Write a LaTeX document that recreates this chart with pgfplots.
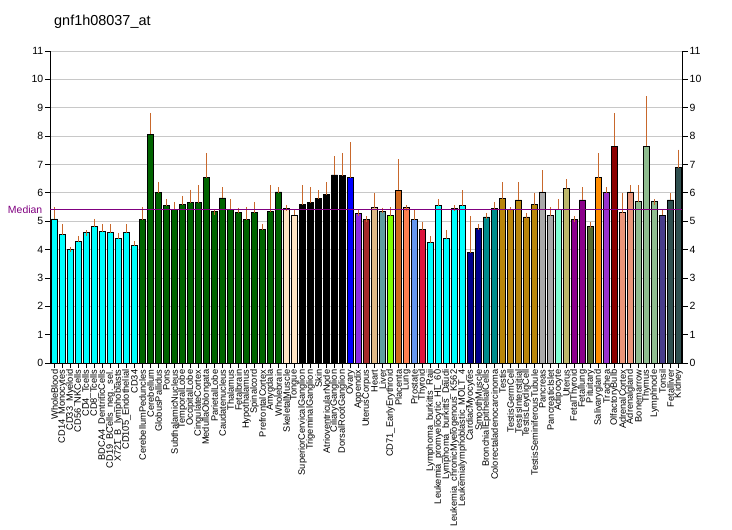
\documentclass[border=0pt]{standalone}
\usepackage{fontspec}
\setmainfont{Liberation Sans}
\usepackage{pgfplots}
\pgfplotsset{compat=1.18}
\definecolor{errc}{RGB}{200,104,44}
\definecolor{gridc}{RGB}{200,200,200}
\definecolor{medc}{RGB}{128,0,128}
\definecolor{cCyan}{HTML}{00FFFF}
\definecolor{cDarkgreen}{HTML}{006400}
\definecolor{cBisque}{HTML}{FFE4C4}
\definecolor{cBlack}{HTML}{000000}
\definecolor{cBlue}{HTML}{0000FF}
\definecolor{cBlueviolet}{HTML}{8A2BE2}
\definecolor{cBrown}{HTML}{A52A2A}
\definecolor{cBurlywood}{HTML}{DEB887}
\definecolor{cCadetblue}{HTML}{5F9EA0}
\definecolor{cChartreuse}{HTML}{7FFF00}
\definecolor{cChocolate}{HTML}{D2691E}
\definecolor{cCoral}{HTML}{FF7F50}
\definecolor{cCornflower}{HTML}{6495ED}
\definecolor{cCrimson}{HTML}{DC143C}
\definecolor{cDarkblue}{HTML}{00008B}
\definecolor{cDarkcyan}{HTML}{008B8B}
\definecolor{cDarkgoldenrod}{HTML}{B8860B}
\definecolor{cDarkgray}{HTML}{A9A9A9}
\definecolor{cAquamarine}{HTML}{7FFFD4}
\definecolor{cDarkkhaki}{HTML}{BDB76B}
\definecolor{cDarkmagenta}{HTML}{8B008B}
\definecolor{cDarkolive}{HTML}{556B2F}
\definecolor{cDarkorange}{HTML}{FF8C00}
\definecolor{cDarkorchid}{HTML}{9932CC}
\definecolor{cDarkred}{HTML}{8B0000}
\definecolor{cDarksalmon}{HTML}{E9967A}
\definecolor{cDarkseagreen}{HTML}{8FBC8F}
\definecolor{cDarkslateblue}{HTML}{483D8B}
\definecolor{cDarkslategray}{HTML}{2F4F4F}
\pgfplotsset{
  gbar/.style={ybar, bar width=6.4bp, bar shift=0pt, draw=black, line width=0.8bp, fill=#1,
    error bars/.cd, y dir=plus, y explicit,
    error bar style={color=errc, line width=0.9bp},
    error mark options={color=errc, line width=0.9bp, mark size=2.8bp}},
}
\begin{document}
\begin{tikzpicture}
\useasboundingbox (-50.5bp,-167bp) rectangle (681.5bp,363bp);
\begin{axis}[
  at={(0,0)}, anchor=south west,
  scale only axis, width=632bp, height=312bp,
  xmin=0.5, xmax=79.5, ymin=0, ymax=11,
  axis x line*=bottom, axis y line*=left,
  axis line style={black, line width=0.8bp},
  ytick={0,1,...,11},
  ymajorgrids, major grid style={draw=gridc, line width=0.8bp},
  tick align=outside, major tick length=5bp,
  tick style={black, line width=0.8bp},
  /pgf/number format/assume math mode=true,
  yticklabel style={font=\fontsize{10.5}{10.5}\selectfont, inner sep=2bp},
  xtick={1,...,79},
  xticklabels={WholeBlood,CD14\_Monocytes,CD33\_Myeloid,CD56\_NKCells,CD4\_Tcells,CD8\_Tcells,BDCA4\_DentriticCells,CD19\_BCells\_neg.\_sel.,X721\_B\_lymphoblasts,CD105\_Endothelial,CD34,CerebellumPeduncles,Cerebellum,GlobusPallidus,Pons,SubthalamicNucleus,TemporalLobe,OccipitalLobe,CingulateCortex,MedullaOblongata,ParietalLobe,Caudatenucleus,Thalamus,Fetalbrain,Hypothalamus,Spinalcord,PrefrontalCortex,Amygdala,Wholebrain,SkeletalMuscle,Tongue,SuperiorCervicalGanglion,TrigeminalGanglion,Skin,AtrioventricularNode,CiliaryGanglion,DorsalRootGanglion,Ovary,Appendix,UterusCorpus,Heart,Liver,CD71\_EarlyErythroid,Placenta,Lung,Prostate,Thyroid,Lymphoma\_burkitts\_Raji,Leukemia\_promyelocytic\_HL\_60,Lymphoma\_burkitts\_Daudi,Leukemia\_chronicMyelogenous\_K562,Leukemialymphoblastic\_MOLT\_4,CardiacMyocytes,SmoothMuscle,BronchialEpithelialCells,Colorectaladenocarcinoma,Testis,TestisGermCell,TestisInterstitial,TestisLeydigCell,TestisSeminiferousTubule,Pancreas,PancreaticIslet,Adipocyte,Uterus,FetalThyroid,Fetallung,Pituitary,Salivarygland,Trachea,OlfactoryBulb,AdrenalCortex,Adrenalgland,Bonemarrow,Thymus,Lymphnode,Tonsil,Fetalliver,Kidney},
  xticklabel style={rotate=90, anchor=east, font=\fontsize{9.3}{9.3}\selectfont, inner sep=1.5bp},
  clip=false,
]
\addplot[gbar=cCyan] coordinates {(1,5.08) +- (0,0.32) (2,4.52) +- (0,0.28) (3,4.00) +- (0,0) (4,4.28) +- (0,0.10) (5,4.59) +- (0,0) (6,4.80) +- (0,0.18) (7,4.63) +- (0,0.17) (8,4.59) +- (0,0.21) (9,4.38) +- (0,0.11) (10,4.59) +- (0,0.21) (11,4.14) +- (0,0.07)};
\addplot[gbar=cDarkgreen] coordinates {(12,5.05) +- (0,0.35) (13,8.07) +- (0,0.65) (14,6.01) +- (0,0.28) (15,5.54) +- (0,0.14) (16,5.40) +- (0,0.18) (17,5.58) +- (0,0.21) (18,5.65) +- (0,0.36) (19,5.65) +- (0,0.52) (20,6.53) +- (0,0.77) (21,5.33) +- (0,0) (22,5.82) +- (0,0.28) (23,5.40) +- (0,0.28) (24,5.30) +- (0,0.08) (25,5.05) +- (0,0.35) (26,5.30) +- (0,0.28) (27,4.70) +- (0,0.10) (28,5.33) +- (0,0.84) (29,6.03) +- (0,0.07)};
\addplot[gbar=cBisque] coordinates {(30,5.44) +- (0,0.03) (31,5.22) +- (0,0.08)};
\addplot[gbar=cBlack] coordinates {(32,5.58) +- (0,0.59) (33,5.65) +- (0,0.45) (34,5.79) +- (0,0.21) (35,5.93) +- (0,0.35) (36,6.63) +- (0,0.56) (37,6.60) +- (0,0.70)};
\addplot[gbar=cBlue] coordinates {(38,6.53) +- (0,1.16)};
\addplot[gbar=cBlueviolet] coordinates {(39,5.28) +- (0,0)};
\addplot[gbar=cBrown] coordinates {(40,5.05) +- (0,0.03)};
\addplot[gbar=cBurlywood] coordinates {(41,5.47) +- (0,0.42)};
\addplot[gbar=cCadetblue] coordinates {(42,5.33) +- (0,0.05)};
\addplot[gbar=cChartreuse] coordinates {(43,5.19) +- (0,0.21)};
\addplot[gbar=cChocolate] coordinates {(44,6.10) +- (0,0.99)};
\addplot[gbar=cCoral] coordinates {(45,5.47) +- (0,0)};
\addplot[gbar=cCornflower] coordinates {(46,5.05) +- (0,0.25)};
\addplot[gbar=cCrimson] coordinates {(47,4.70) +- (0,0.17)};
\addplot[gbar=cCyan] coordinates {(48,4.24) +- (0,0.14) (49,5.54) +- (0,0.14) (50,4.38) +- (0,0.21) (51,5.44) +- (0,0.03) (52,5.54) +- (0,0.46)};
\addplot[gbar=cDarkblue] coordinates {(53,3.89) +- (0,1.19) (54,4.73) +- (0,0.07)};
\addplot[gbar=cDarkcyan] coordinates {(55,5.15) +- (0,0.04) (56,5.44) +- (0,0.14)};
\addplot[gbar=cDarkgoldenrod] coordinates {(57,5.79) +- (0,0.49) (58,5.40) +- (0,0) (59,5.75) +- (0,0.53) (60,5.15) +- (0,0.04) (61,5.58) +- (0,0.31)};
\addplot[gbar=cDarkgray] coordinates {(62,6.03) +- (0,0.67) (63,5.19) +- (0,0.21)};
\addplot[gbar=cAquamarine] coordinates {(64,5.40) +- (0,0.28)};
\addplot[gbar=cDarkkhaki] coordinates {(65,6.14) +- (0,0.24)};
\addplot[gbar=cDarkmagenta] coordinates {(66,5.05) +- (0,0.03) (67,5.75) +- (0,0.35)};
\addplot[gbar=cDarkolive] coordinates {(68,4.80) +- (0,0.07)};
\addplot[gbar=cDarkorange] coordinates {(69,6.53) +- (0,0.77)};
\addplot[gbar=cDarkorchid] coordinates {(70,6.00) +- (0,0.10)};
\addplot[gbar=cDarkred] coordinates {(71,7.65) +- (0,1.05)};
\addplot[gbar=cDarksalmon] coordinates {(72,5.30) +- (0,0.59) (73,6.03) +- (0,0.14)};
\addplot[gbar=cDarkseagreen] coordinates {(74,5.68) +- (0,0.49) (75,7.65) +- (0,1.65) (76,5.68) +- (0,0)};
\addplot[gbar=cDarkslateblue] coordinates {(77,5.22) +- (0,0.08)};
\addplot[gbar=cDarkslategray] coordinates {(78,5.75) +- (0,0.14) (79,6.88) +- (0,0.54)};
\addplot[medc, line width=0.9bp] coordinates {(0.5,5.40) (79.5,5.40)};
\node[anchor=east, text=medc, font=\fontsize{10.5}{10.5}\selectfont, inner sep=0pt] at (axis cs:0.5,5.40) [xshift=-8bp] {Median};
\end{axis}
\begin{axis}[
  at={(0,0)}, anchor=south west,
  scale only axis, width=632bp, height=312bp,
  xmin=0.5, xmax=79.5, ymin=0, ymax=11,
  axis x line=none, axis y line*=right,
  axis line style={black, line width=0.8bp},
  ytick={0,1,...,11},
  tick align=outside, major tick length=5bp,
  tick style={black, line width=0.8bp},
  /pgf/number format/assume math mode=true,
  yticklabel style={font=\fontsize{10.5}{10.5}\selectfont, inner sep=2bp},
]
\addplot[draw=none] coordinates {(1,0)};
\end{axis}
\node[anchor=west, font=\fontsize{14.5}{14.5}\selectfont, inner sep=0pt] at (3.5bp,341bp) {gnf1h08037\_at};
\end{tikzpicture}
\end{document}
